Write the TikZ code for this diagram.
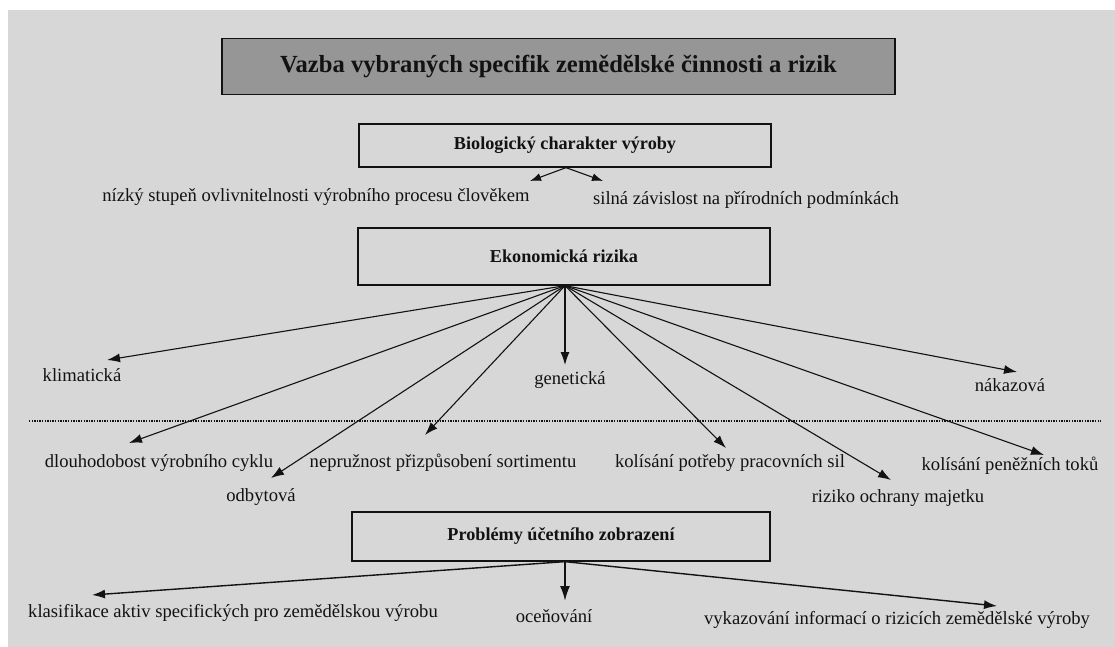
\documentclass[tikz,border=0pt]{standalone}
\usepackage{fontspec}
\setmainfont{Liberation Serif}
\usetikzlibrary{arrows.meta}
\definecolor{bg}{RGB}{215,215,216}
\definecolor{titlefill}{RGB}{150,150,150}
\definecolor{ink}{RGB}{18,18,18}
\begin{document}
\begin{tikzpicture}[x=1pt,y=-1pt,
  box/.style={draw=ink,line width=1.3pt,inner sep=0pt,text=ink,
    font=\bfseries\fontsize{18.2}{21}\selectfont},
  lbl/.style={font=\fontsize{18.6}{22}\selectfont,text=ink,inner sep=0pt},
  arr/.style={-{Latex[length=13pt,width=9pt]},line width=1.1pt,draw=ink},
]
\fill[white] (0,0) rectangle (1115,647);
\fill[bg] (8,10) rectangle (1115,647);
\useasboundingbox (0,0) rectangle (1115,647);

% boxes
\node[box,fill=titlefill,line width=1.8pt,minimum width=673pt,minimum height=56pt,
  font=\bfseries\fontsize{24.6}{30}\selectfont] (title) at (558.5,66.5)
  {Vazba vybraných specifik zemědělské činnosti a rizik};
\node[box,minimum width=412pt,minimum height=43pt] (bio) at (565,145.5)
  {Biologický charakter výroby};
\node[box,minimum width=412pt,minimum height=57pt] (ek) at (564,256.5)
  {Ekonomická rizika};
\node[box,minimum width=418pt,minimum height=49pt] (pr) at (561,536.5)
  {Problémy účetního zobrazení};

% labels
\node[lbl] (nizky) at (316,197) {nízký stupeň ovlivnitelnosti výrobního procesu člověkem};
\node[lbl] (silna) at (746,200) {silná závislost na přírodních podmínkách};
\node[lbl] (klim) at (82,375) {klimatická};
\node[lbl] (gen) at (570,380) {genetická};
\node[lbl] (nak) at (1010,385) {nákazová};
\node[lbl] (dlouh) at (159,463) {dlouhodobost výrobního cyklu};
\node[lbl] (odb) at (261,497) {odbytová};
\node[lbl] (nepr) at (443,463) {nepružnost přizpůsobení sortimentu};
\node[lbl] (kolpr) at (730,463) {kolísání potřeby pracovních sil};
\node[lbl] (rizi) at (898,498) {riziko ochrany majetku};
\node[lbl] (kolpe) at (1010,466) {kolísání peněžních toků};
\node[lbl] (klas) at (233,613) {klasifikace aktiv specifických pro zemědělskou výrobu};
\node[lbl] (oce) at (554,616) {oceňování};
\node[lbl] (vyk) at (897,620) {vykazování informací o rizicích zemědělské výroby};

% dotted separator
\coordinate (dl) at (29,421);
\coordinate (dr) at (1101,421);
\draw[ink,line width=1.3pt,dash pattern=on 1.3pt off 1.3pt] (dl) -- (dr);

% arrow tips
\coordinate (tNiz) at (530,181);
\coordinate (tSil) at (603,181);
\coordinate (tKlim) at (107,360);
\coordinate (tGen) at (565,365);
\coordinate (tNak) at (1017,372);
\coordinate (tDlouh) at (129,443);
\coordinate (tOdb) at (271,478);
\coordinate (tNepr) at (425,435);
\coordinate (tKolpr) at (726,448);
\coordinate (tRizi) at (891,480);
\coordinate (tKolpe) at (1044,455);
\coordinate (tKlas) at (92,595);
\coordinate (tOce) at (565,601);
\coordinate (tVyk) at (997,606);

\coordinate (oBio) at ([xshift=1pt]bio.south);
\coordinate (oEk) at ([xshift=1pt]ek.south);
\coordinate (oPr) at ([xshift=4pt]pr.south);

\draw[arr,-{Latex[length=11pt,width=8pt]}] (oBio) -- (tNiz);
\draw[arr,-{Latex[length=11pt,width=8pt]}] (oBio) -- (tSil);

\foreach \t in {tKlim,tGen,tNak,tDlouh,tOdb,tNepr,tKolpr,tRizi,tKolpe}
  \draw[arr] (oEk) -- (\t);

\draw[arr,line width=1.4pt] (oPr) -- (tKlas);
\draw[arr,line width=2pt,-{Latex[length=15pt,width=10pt]}] (oPr) -- (tOce);
\draw[arr,line width=1.4pt] (oPr) -- (tVyk);
\end{tikzpicture}
\end{document}
